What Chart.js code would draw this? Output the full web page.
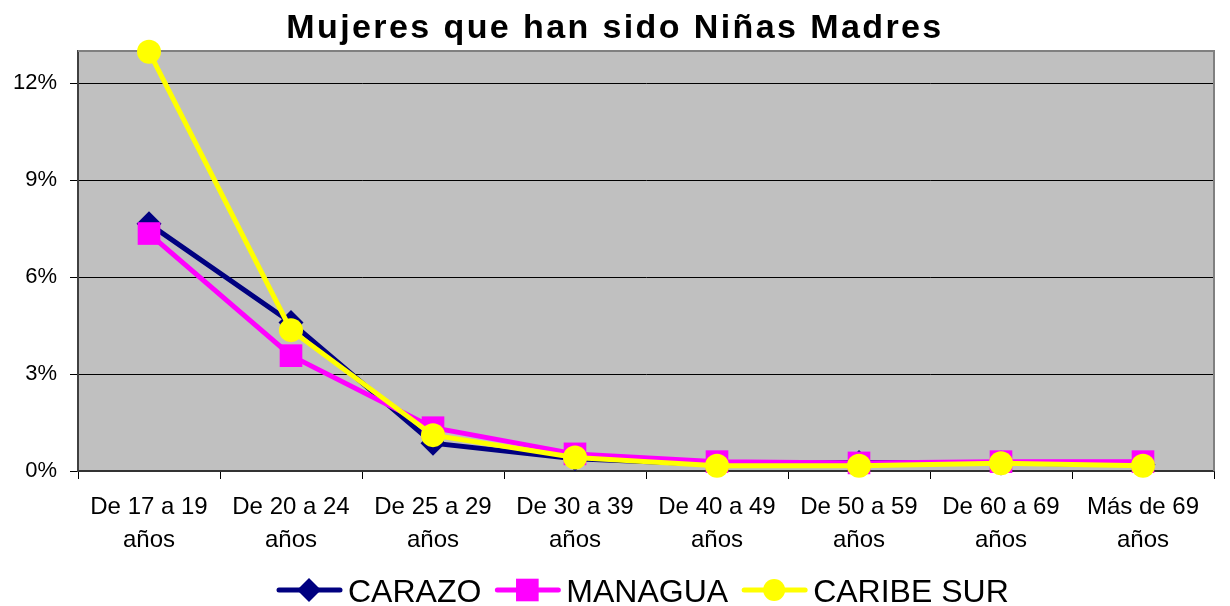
<!DOCTYPE html>
<html>
<head>
<meta charset="utf-8">
<script src="https://cdn.jsdelivr.net/npm/chart.js@4.4.0/dist/chart.umd.min.js"></script>
<style>
  html, body { margin: 0; padding: 0; background: #fff; }
</style>
</head>
<body>
<canvas id="chart" width="1230" height="606"></canvas>
<script>
// datos (porcentaje)
const categorias = [
  ['De 17 a 19', 'años'], ['De 20 a 24', 'años'], ['De 25 a 29', 'años'], ['De 30 a 39', 'años'],
  ['De 40 a 49', 'años'], ['De 50 a 59', 'años'], ['De 60 a 69', 'años'], ['Más de 69', 'años']
];
const carazo    = [7.65, 4.6, 0.86, 0.38, 0.2, 0.26, 0.25, 0.19];
const managua   = [7.35, 3.57, 1.34, 0.53, 0.29, 0.25, 0.29, 0.29];
const caribeSur = [12.98, 4.36, 1.11, 0.42, 0.16, 0.16, 0.24, 0.16];
const ticksY = [0, 3, 6, 9, 12];

const FONT = '"Liberation Sans", Arial, sans-serif';

// fondo gris del area y borde
const fondo = {
  id: 'fondo',
  beforeDraw(chart) {
    const { ctx, chartArea: a } = chart;
    ctx.save();
    ctx.fillStyle = '#fff';
    ctx.fillRect(0, 0, chart.width, chart.height);
    ctx.fillStyle = '#C0C0C0';
    ctx.fillRect(a.left, a.top, a.right - a.left, a.bottom - a.top);
    ctx.restore();
  },
  beforeDatasetsDraw(chart) {
    const { ctx, chartArea: a } = chart;
    ctx.save();
    ctx.strokeStyle = '#808080';
    ctx.lineWidth = 2;
    ctx.beginPath();
    ctx.moveTo(a.left, a.top);
    ctx.lineTo(a.right, a.top);
    ctx.lineTo(a.right, a.bottom);
    ctx.stroke();
    ctx.restore();
  }
};

// titulo con espaciado de letras
const titulo = {
  id: 'titulo',
  afterDraw(chart) {
    const ctx = chart.ctx;
    ctx.save();
    ctx.font = 'bold 34px ' + FONT;
    ctx.letterSpacing = '2.4px';
    ctx.fillStyle = '#000';
    ctx.textAlign = 'center';
    ctx.textBaseline = 'alphabetic';
    ctx.fillText('Mujeres que han sido Niñas Madres', 615, 38);
    ctx.restore();
  }
};

// leyenda con linea y marcador
const leyenda = {
  id: 'leyenda',
  afterDraw(chart) {
    const ctx = chart.ctx;
    let x = 277;
    const y = 590;
    ctx.save();
    ctx.font = '32px ' + FONT;
    chart.data.datasets.forEach(ds => {
      ctx.strokeStyle = ds.borderColor;
      ctx.fillStyle = ds.borderColor;
      ctx.lineWidth = 5;
      ctx.lineCap = 'round';
      ctx.beginPath();
      ctx.moveTo(x + 2, y);
      ctx.lineTo(x + 63, y);
      ctx.stroke();
      Chart.helpers.drawPoint(ctx, {
        pointStyle: ds.pointStyle, radius: ds.legendRadius, rotation: 0, borderWidth: 0
      }, x + 32, y);
      ctx.fillStyle = '#000';
      ctx.textBaseline = 'alphabetic';
      ctx.fillText(ds.label, x + 71, 602);
      x += 71 + ctx.measureText(ds.label).width + 14;
    });
    ctx.restore();
  }
};

new Chart(document.getElementById('chart'), {
  type: 'line',
  data: {
    labels: categorias,
    datasets: [
      {
        label: 'CARAZO', data: carazo, order: 2,
        borderColor: '#000080', backgroundColor: '#000080',
        pointStyle: 'rectRot', pointRadius: 12.5, legendRadius: 12,
        borderWidth: 5, pointBorderWidth: 0, tension: 0, clip: false
      },
      {
        label: 'MANAGUA', data: managua, order: 1,
        borderColor: '#FF00FF', backgroundColor: '#FF00FF',
        pointStyle: 'rect', pointRadius: 16, legendRadius: 16,
        borderWidth: 5, pointBorderWidth: 0, tension: 0, clip: false
      },
      {
        label: 'CARIBE SUR', data: caribeSur, order: 0,
        borderColor: '#FFFF00', backgroundColor: '#FFFF00',
        pointStyle: 'circle', pointRadius: 12, legendRadius: 11,
        borderWidth: 5, pointBorderWidth: 0, tension: 0, clip: false
      }
    ]
  },
  options: {
    responsive: false,
    animation: false,
    devicePixelRatio: 1,
    layout: { padding: { top: 51, right: 8, left: 0, bottom: 0 } },
    plugins: {
      legend: { display: false },
      title: { display: false },
      tooltip: { enabled: false }
    },
    scales: {
      x: {
        offset: true,
        grid: { offset: true, drawOnChartArea: false, color: '#000', tickLength: 8 },
        border: { color: '#333', width: 2 },
        ticks: {
          font: { size: 24, family: FONT, lineHeight: 1.38 }, color: '#000',
          padding: 12, maxRotation: 0, autoSkip: false
        },
        afterFit(s) { s.height = 135; }
      },
      y: {
        min: 0,
        max: 13,
        afterBuildTicks(s) { s.ticks = ticksY.map(v => ({ value: v })); },
        ticks: { font: { size: 22, family: FONT }, color: '#000', padding: 13, callback: v => v + '%' },
        grid: { color: '#000', lineWidth: 1, tickLength: 8 },
        border: { color: '#404040', width: 2 },
        afterFit(s) { s.width = 78; }
      }
    }
  },
  plugins: [fondo, titulo, leyenda]
});
</script>
</body>
</html>
